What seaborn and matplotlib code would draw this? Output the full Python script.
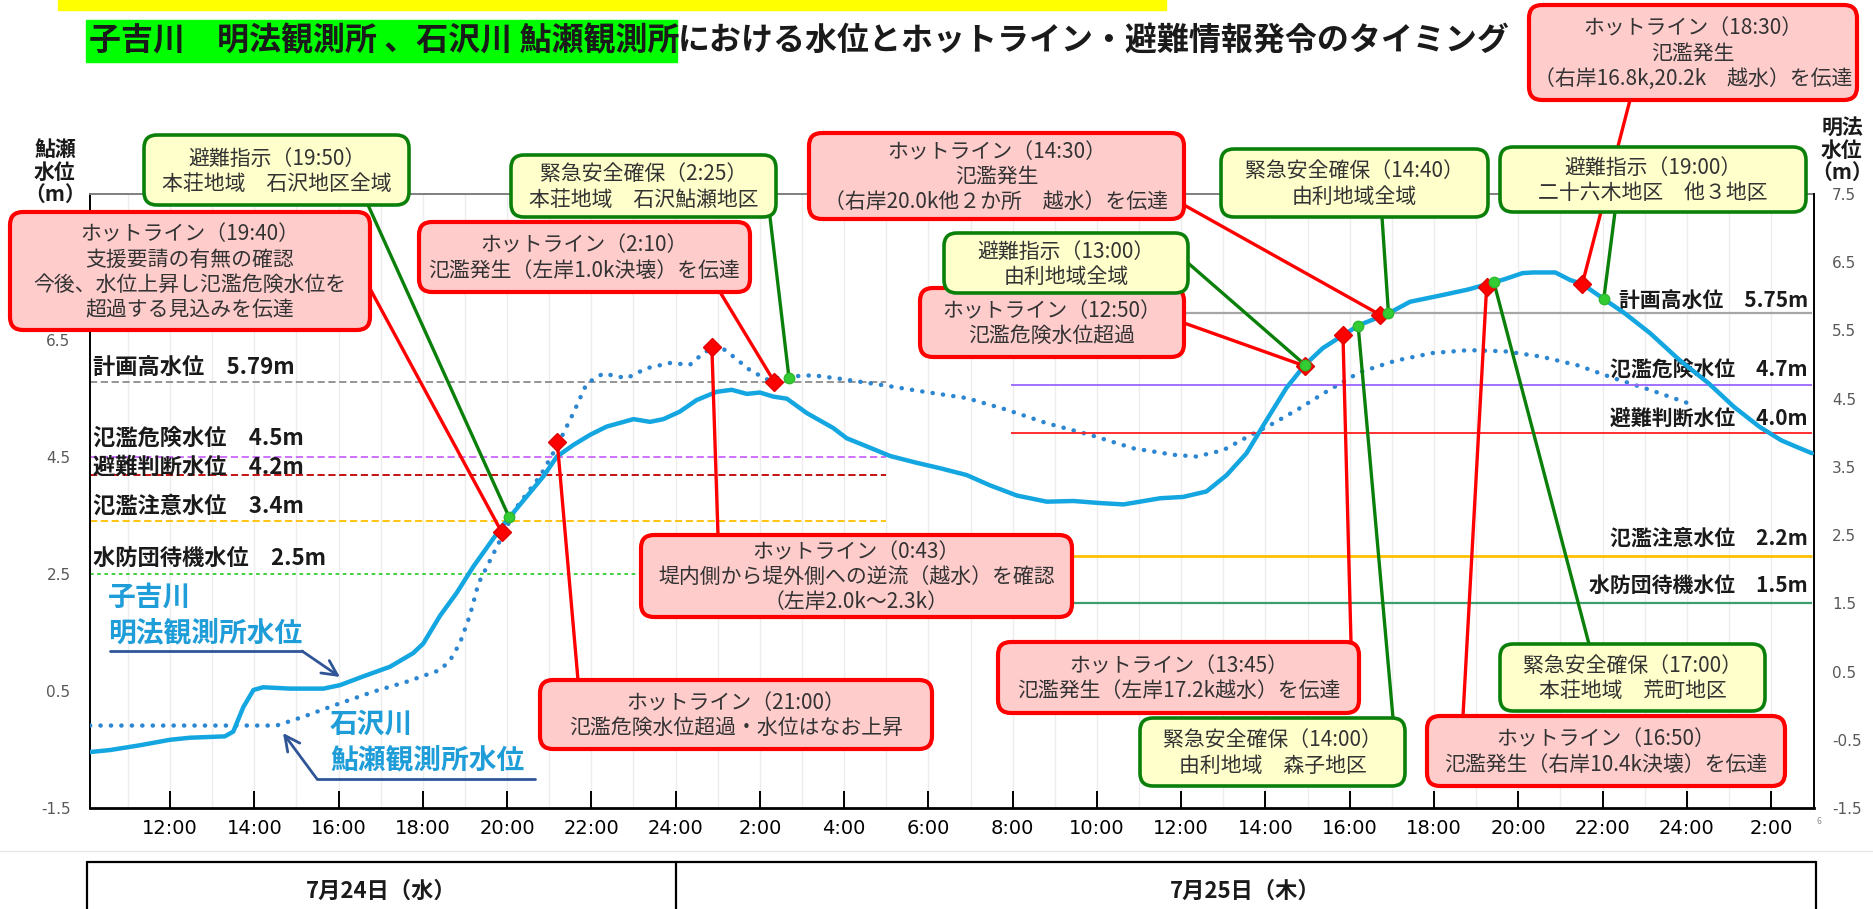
import numpy as np
import pandas as pd
import seaborn as sns
import matplotlib.pyplot as plt
from matplotlib.transforms import Affine2D
from matplotlib.patches import FancyBboxPatch, Rectangle, ConnectionPatch
from matplotlib.lines import Line2D

W, H = 1874, 909

# 子吉川 明法観測所 (right axis), hours from 7/24 0:00
meiho_t = [10.1, 10.58, 11.29, 12.0, 12.47, 13.3, 13.5, 13.74, 13.98, 14.21, 14.85, 15.64,
           16.03, 16.59, 17.22, 17.77, 18.01, 18.41, 18.8, 19.2, 19.87, 20.39, 20.86, 21.18,
           21.57, 21.97, 22.36, 23.0, 23.39, 23.71, 24.1, 24.5, 24.97, 25.33, 25.69, 26.0,
           26.32, 26.64, 27.11, 27.74, 28.06, 28.54, 29.09, 29.72, 30.28, 30.91, 31.46, 32.1,
           32.81, 33.44, 34.07, 34.63, 35.02, 35.5, 36.05, 36.6, 37.08, 37.55, 38.03, 38.5,
           38.93, 39.36, 39.84, 40.23, 40.92, 41.43, 42.21, 42.81, 43.33, 43.67, 44.1, 44.36,
           44.88, 45.23, 45.52, 46.01, 46.53, 47.13, 47.82, 48.51, 49.12, 49.72, 50.24, 50.58, 50.97]
meiho_lv = [-0.68, -0.65, -0.58, -0.50, -0.47, -0.45, -0.38, -0.02, 0.23, 0.27, 0.25, 0.25,
            0.30, 0.43, 0.57, 0.77, 0.91, 1.32, 1.65, 2.04, 2.62, 3.01, 3.36, 3.65,
            3.82, 3.97, 4.09, 4.20, 4.16, 4.20, 4.31, 4.48, 4.60, 4.63, 4.57, 4.59,
            4.53, 4.50, 4.29, 4.07, 3.92, 3.80, 3.66, 3.56, 3.48, 3.38, 3.23, 3.08,
            2.99, 3.00, 2.97, 2.95, 2.99, 3.04, 3.06, 3.14, 3.38, 3.70, 4.19, 4.66,
            4.99, 5.24, 5.43, 5.58, 5.75, 5.92, 6.02, 6.10, 6.19, 6.25, 6.34, 6.35,
            6.35, 6.24, 6.18, 5.97, 5.75, 5.46, 5.07, 4.73, 4.38, 4.09, 3.89, 3.80, 3.70]

# 石沢川 鮎瀬観測所 (left axis)
ayuse_t = [10.1, 14.53, 15.16, 16.03, 16.83, 17.62, 18.41, 18.65, 18.88, 19.12, 19.32, 19.6,
           20.23, 20.78, 21.18, 21.57, 21.89, 22.28, 22.84, 23.31, 23.87, 24.34, 24.66, 25.01,
           25.37, 25.76, 26.16, 26.71, 27.27, 27.9, 28.93, 29.88, 30.91, 31.86, 32.81, 33.84,
           34.87, 35.82, 36.37, 37.0, 37.63, 38.19, 38.8, 39.4, 40.23, 41.09, 41.96, 42.82,
           43.68, 44.54, 45.41, 46.27, 47.13, 48.04]
ayuse_lv = [-0.09, -0.09, 0.06, 0.29, 0.49, 0.66, 0.86, 1.03, 1.32, 1.80, 2.34, 2.74,
            3.65, 4.17, 4.68, 5.25, 5.76, 5.93, 5.85, 6.02, 6.11, 6.08, 6.28, 6.42,
            6.22, 5.99, 5.83, 5.88, 5.90, 5.84, 5.73, 5.62, 5.51, 5.31, 5.08, 4.88,
            4.65, 4.54, 4.51, 4.62, 4.87, 5.08, 5.33, 5.60, 5.95, 6.15, 6.28, 6.33,
            6.31, 6.22, 6.07, 5.85, 5.65, 5.42]

level_names = ["計画高水位", "氾濫危険水位", "避難判断水位", "氾濫注意水位", "水防団待機水位"]
ayuse_levels = [5.79, 4.5, 4.2, 3.4, 2.5]
meiho_levels = [5.75, 4.7, 4.0, 2.2, 1.5]

# event markers: time, level, axis (L = 鮎瀬, R = 明法), kind
mark_t = [19.87, 20.05, 21.19, 24.86, 26.34, 26.69,
          38.93, 38.95, 39.84, 40.20, 40.72, 40.92, 43.25, 43.42, 45.52, 46.03]
mark_lv = [3.22, 3.47, 4.76, 6.39, 5.79, 5.86,
           4.98, 4.99, 5.43, 5.57, 5.73, 5.75, 6.14, 6.21, 6.18, 5.96]
mark_axis = ["L"] * 6 + ["R"] * 10
mark_kind = ["hot", "evac", "hot", "hot", "hot", "evac",
             "hot", "evac", "hot", "evac", "hot", "evac", "hot", "evac", "hot", "evac"]

mark_text = [
    "ホットライン（19:40）\n支援要請の有無の確認\n今後、水位上昇し氾濫危険水位を\n超過する見込みを伝達",
    "避難指示（19:50）\n本荘地域　石沢地区全域",
    "ホットライン（21:00）\n氾濫危険水位超過・水位はなお上昇",
    "ホットライン（0:43）\n堤内側から堤外側への逆流（越水）を確認\n（左岸2.0k～2.3k）",
    "ホットライン（2:10）\n氾濫発生（左岸1.0k決壊）を伝達",
    "緊急安全確保（2:25）\n本荘地域　石沢鮎瀬地区",
    "ホットライン（12:50）\n氾濫危険水位超過",
    "避難指示（13:00）\n由利地域全域",
    "ホットライン（13:45）\n氾濫発生（左岸17.2k越水）を伝達",
    "緊急安全確保（14:00）\n由利地域　森子地区",
    "ホットライン（14:30）\n氾濫発生\n（右岸20.0k他２か所　越水）を伝達",
    "緊急安全確保（14:40）\n由利地域全域",
    "ホットライン（16:50）\n氾濫発生（右岸10.4k決壊）を伝達",
    "緊急安全確保（17:00）\n本荘地域　荒町地区",
    "ホットライン（18:30）\n氾濫発生\n（右岸16.8k,20.2k　越水）を伝達",
    "避難指示（19:00）\n二十六木地区　他３地区",
]

# callout box layout in pixels (x0, y0, x1, y1, top-left origin) and leader start
box_rect = [(10, 212, 370, 330), (144, 135, 409, 205), (540, 680, 932, 749),
            (641, 535, 1072, 617), (419, 222, 750, 292), (511, 155, 776, 217),
            (920, 288, 1184, 357), (944, 233, 1188, 293), (998, 642, 1359, 713),
            (1140, 718, 1405, 786), (809, 133, 1184, 219), (1221, 149, 1488, 217),
            (1427, 716, 1785, 786), (1500, 644, 1765, 711), (1529, 5, 1857, 100),
            (1500, 147, 1806, 212)]
box_anchor = [(368, 285), (368, 205), (578, 680), (718, 535), (720, 292), (770, 217),
              (1184, 323), (1188, 263), (1351, 642), (1393, 718), (1184, 205), (1382, 217),
              (1463, 716), (1589, 644), (1630, 100), (1615, 212)]

sns.set_theme(style="white")
plt.rcParams['font.family'] = ['Noto Sans CJK JP', 'DejaVu Sans']
plt.rcParams['axes.unicode_minus'] = False

fig = plt.figure(figsize=(W / 100, H / 100), dpi=100)
fig.patch.set_facecolor("white")
ax1 = fig.add_axes([90 / W, 1 - 808 / H, (1814 - 90) / W, (808 - 194) / H])
ax2 = ax1.twinx()
px = Affine2D().scale(1 / W, -1 / H).translate(0, 1) + fig.transFigure

SOLID = "#14A6E0"
DOTTED = "#2C86D0"

df_m = pd.DataFrame({"t": meiho_t, "lv": meiho_lv})
df_a = pd.DataFrame({"t": ayuse_t, "lv": ayuse_lv})

# threshold lines
left_styles = [("#8C8C8C", (0, (4, 2))), ("#CC66FF", (0, (4, 2))), ("#C00000", (0, (4, 2))),
               ("#FFC000", (0, (4, 2))), ("#33CC33", (0, (2, 2)))]
right_styles = [("#A6A6A6", 1.6), ("#9966FF", 1.3), ("#FF2020", 1.3), ("#FFC000", 2.0), ("#3C9E6E", 1.6)]
label_y_left = [368, 438, 467, 506, 558]
label_y_right = [300, 370, 418, 538, 585]
for i, (name, lv) in enumerate(zip(level_names, ayuse_levels)):
    c, ls = left_styles[i]
    ax1.hlines(lv, 10.1, 29.0, colors=c, linestyles=[ls], lw=1.3, zorder=2)
    ax1.text(93, label_y_left[i], f"{name}　{lv}m", transform=px, ha="left", va="center",
             fontsize=16, fontweight="bold", color="#1A1A1A", clip_on=False)
for i, (name, lv) in enumerate(zip(level_names, meiho_levels)):
    c, lw = right_styles[i]
    ax2.hlines(lv, 31.97, 50.97, colors=c, lw=lw, zorder=2)
    ax2.text(1808, label_y_right[i], f"{name}　{lv}m", transform=px, ha="right", va="center",
             fontsize=15, fontweight="bold", color="#1A1A1A", clip_on=False)

sns.lineplot(data=df_a, x="t", y="lv", ax=ax1, color=DOTTED, lw=3.2,
             linestyle=(0, (0.05, 2.3)), dash_capstyle="round", zorder=3)
sns.lineplot(data=df_m, x="t", y="lv", ax=ax2, color=SOLID, lw=3.2, zorder=3)

# axes setup
ax1.set_xlim(10.1, 51.02)
ax1.set_ylim(-1.5, 9.0)
ax2.set_ylim(-1.5, 7.5)
xt = list(range(12, 51, 2))
ax1.set_xticks(xt)
ax1.set_xticklabels([f"{(h % 24) or 24}:00" for h in xt], fontsize=14, family="DejaVu Sans")
ax1.set_xticks(np.arange(11, 51, 1), minor=True)
ax1.grid(True, which="both", axis="x", color="#EDEDED", lw=1)
ax1.grid(False, axis="y")
ax2.grid(False)
ax1.set_axisbelow(True)
ax1.tick_params(axis="x", which="major", direction="in", length=12, width=1.4, color="black",
                pad=8, labelcolor="black", bottom=True)
ax1.tick_params(axis="x", which="minor", length=0)
ly = [-1.5, 0.5, 2.5, 4.5, 6.5]
ax1.set_yticks(ly)
ax1.set_yticklabels([f"{v:.1f}" for v in ly], fontsize=11, family="DejaVu Sans")
ax1.tick_params(axis="y", length=0, pad=14, labelcolor="#595959")
ry = list(np.arange(-1.5, 7.6, 1.0))
ax2.set_yticks(ry)
ax2.set_yticklabels([f"{v:.1f}" for v in ry], fontsize=11, family="DejaVu Sans")
ax2.tick_params(axis="y", length=0, pad=13, labelcolor="#595959")
ax1.set_xlabel("")
ax1.set_ylabel("")
ax2.set_ylabel("")
for s in ["left", "bottom"]:
    ax1.spines[s].set_color("black")
ax1.spines["left"].set_linewidth(1.4)
ax1.spines["bottom"].set_linewidth(2.0)
ax1.spines["top"].set_color("#7F7F7F")
ax1.spines["top"].set_linewidth(1.4)
ax1.spines["right"].set_visible(False)
for s in ["left", "bottom", "top"]:
    ax2.spines[s].set_visible(False)
ax2.spines["right"].set_color("black")
ax2.spines["right"].set_linewidth(1.4)

# markers and leader lines
for i in range(len(mark_t)):
    tr = ax1.transData if mark_axis[i] == "L" else ax2.transData
    if mark_kind[i] == "hot":
        ax2.plot([mark_t[i]], [mark_lv[i]], marker="D", ms=9, color="#FF0000", mec="#E00000",
                 ls="none", transform=tr, zorder=6, clip_on=False)
    else:
        ax2.plot([mark_t[i]], [mark_lv[i]], marker="o", ms=7.5, color="#33CC33", mec="#2DB82D",
                 ls="none", transform=tr, zorder=6.5, clip_on=False)
    lc = "#FF0000" if mark_kind[i] == "hot" else "#0A800A"
    cp = ConnectionPatch(xyA=box_anchor[i], coordsA=px, xyB=(mark_t[i], mark_lv[i]), coordsB=tr,
                         color=lc, lw=2.4, zorder=5)
    cp.set_clip_on(False)
    ax2.add_artist(cp)

# callout boxes
for i in range(len(box_rect)):
    x0, y0, x1, y1 = box_rect[i]
    if mark_kind[i] == "hot":
        fc, ec, lw = "#FFCCCC", "#FF0000", 3.0
    else:
        fc, ec, lw = "#FFFFCC", "#0A800A", 2.6
    bx = FancyBboxPatch((x0, y0), x1 - x0, y1 - y0, boxstyle="round,pad=0,rounding_size=13",
                        transform=px, fc=fc, ec=ec, lw=lw, zorder=7 + i * 0.01, clip_on=False)
    ax2.add_patch(bx)
    ax2.text((x0 + x1) / 2, (y0 + y1) / 2 + 1, mark_text[i], transform=px, ha="center", va="center",
             multialignment="center", fontsize=15, color="#333333", linespacing=1.18,
             zorder=7.005 + i * 0.01, clip_on=False)

# series labels with pointers
LBL = "#1E9DD8"
ARR = "#2F5597"
for (x, y, s) in [(108, 598, "子吉川"), (108, 633, "明法観測所水位"),
                  (330, 725, "石沢川"), (330, 760, "鮎瀬観測所水位")]:
    ax2.text(x, y, s, transform=px, fontsize=20, fontweight="bold", color=LBL,
             ha="left", va="center", clip_on=False, zorder=8)
ax2.add_line(Line2D([110, 302], [651, 651], transform=px, color=ARR, lw=2, clip_on=False, zorder=8))
ax2.add_line(Line2D([535, 317], [779, 779], transform=px, color=ARR, lw=2, clip_on=False, zorder=8))
ax2.annotate("", xy=(340, 677), xytext=(302, 651), xycoords=px, textcoords=px, annotation_clip=False,
             arrowprops=dict(arrowstyle="->,head_length=0.9,head_width=0.45", color=ARR, lw=2,
                             shrinkA=0, shrinkB=0), zorder=8)
ax2.annotate("", xy=(283, 733), xytext=(317, 779), xycoords=px, textcoords=px, annotation_clip=False,
             arrowprops=dict(arrowstyle="->,head_length=0.9,head_width=0.45", color=ARR, lw=2,
                             shrinkA=0, shrinkB=0), zorder=8)

# axis unit labels
fig.text(55, 172, "鮎瀬\n水位\n（m）", transform=px, ha="center", va="center", fontsize=15,
         fontweight="bold", color="#1A1A1A", linespacing=1.1)
fig.text(1842, 150, "明法\n水位\n（m）", transform=px, ha="center", va="center", fontsize=15,
         fontweight="bold", color="#1A1A1A", linespacing=1.1)
fig.text(1819, 822, "6", transform=px, ha="center", va="center", fontsize=6, color="#8C8C8C")

# title
fig.add_artist(Rectangle((58, 0), 1108, 10, transform=px, color="#FFFF00", zorder=1))
fig.add_artist(Rectangle((86, 20), 591, 42, transform=px, color="#00FF00", zorder=1))
fig.text(89, 41, "子吉川　明法観測所 、石沢川 鮎瀬観測所", transform=px, ha="left", va="center",
         fontsize=23, fontweight="bold", color="#1A1A1A", zorder=2)
fig.text(678, 41, "における水位とホットライン・避難情報発令のタイミング", transform=px, ha="left",
         va="center", fontsize=23, fontweight="bold", color="#1A1A1A", zorder=2)

# date table
fig.add_artist(Line2D([0, 1874], [851, 851], transform=px, color="#E6E6E6", lw=1))
fig.add_artist(Line2D([87, 1816], [862, 862], transform=px, color="black", lw=1.6))
for xv in [87, 676, 1816]:
    fig.add_artist(Line2D([xv, xv], [862, 909], transform=px, color="black", lw=1.6))
fig.text(381, 891, "7月24日（水）", transform=px, ha="center", va="center", fontsize=16,
         fontweight="bold", color="#1A1A1A")
fig.text(1245, 891, "7月25日（木）", transform=px, ha="center", va="center", fontsize=16,
         fontweight="bold", color="#1A1A1A")

plt.savefig("out.png", dpi=100)
